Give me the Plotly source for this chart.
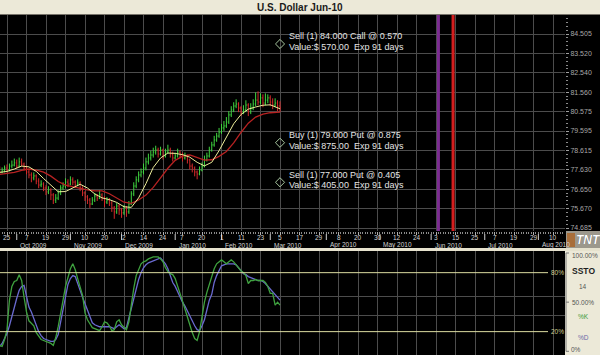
import pandas as pd
import plotly.graph_objects as go

# ------------------------------------------------------------------ data
holidays = ["2009-12-25", "2010-01-01", "2010-01-18"]
first_bar_date = "2009-09-22"
axis_anchor_date = "2009-09-25"

day_label_dates = ["2009-09-25", "2009-10-07", "2009-10-19", "2009-10-29", "2009-11-10",
                   "2009-11-20", "2009-12-02", "2009-12-14", "2009-12-24", "2010-01-07",
                   "2010-01-20", "2010-02-01", "2010-02-11", "2010-02-23", "2010-03-05",
                   "2010-03-17", "2010-03-29", "2010-04-08", "2010-04-20", "2010-04-30",
                   "2010-05-12", "2010-05-24", "2010-06-03", "2010-06-15", "2010-06-25",
                   "2010-07-07", "2010-07-19", "2010-07-29", "2010-08-10"]
month_start_dates = ["2009-10-01", "2009-11-02", "2009-12-01", "2010-01-04", "2010-02-01",
                     "2010-03-01", "2010-04-01", "2010-05-03", "2010-06-01", "2010-07-01",
                     "2010-08-02"]
month_labels = ["Oct 2009", "Nov 2009", "Dec 2009", "Jan 2010", "Feb 2010", "Mar 2010",
                "Apr 2010", "May 2010", "Jun 2010", "Jul 2010", "Aug 2010"]

bar_open = [77.60, 77.52, 77.62, 77.72, 77.62, 77.82, 77.87, 77.98, 77.82, 78.03,
            77.92, 77.72, 77.52, 77.37, 77.22, 77.32, 77.06, 76.86, 76.91, 76.71,
            76.51, 76.61, 76.36, 76.10, 76.20, 76.46, 76.71, 76.81, 77.01, 76.91,
            77.12, 77.01, 76.86, 76.96, 76.71, 76.46, 76.26, 76.10, 75.90, 76.10,
            76.31, 76.20, 76.36, 76.20, 76.00, 76.10, 75.95, 75.70, 75.50, 75.80,
            75.60, 75.45, 75.70, 75.50, 75.90, 76.41, 76.81, 77.12, 77.37, 77.52,
            77.72, 78.03, 78.23, 78.38, 78.53, 78.63, 78.43, 78.63, 78.33, 78.53,
            78.63, 78.43, 78.23, 78.33, 78.53, 78.38, 78.23, 78.33, 78.13, 77.82,
            77.72, 77.52, 77.42, 77.62, 77.82, 78.13, 78.33, 78.63, 78.89, 79.14,
            79.34, 79.54, 79.75, 79.85, 80.05, 80.41, 80.66, 80.86, 80.96, 80.76,
            80.56, 80.66, 80.91, 80.56, 80.76, 80.96, 81.16, 81.06, 81.27, 81.01,
            81.16, 81.27, 81.06, 80.91, 81.01, 80.86]
bar_high = [77.80, 77.75, 77.85, 77.90, 77.95, 78.10, 78.20, 78.15, 78.25, 78.20,
            78.00, 77.85, 77.65, 77.50, 77.50, 77.40, 77.20, 77.10, 77.00, 76.85,
            76.80, 76.70, 76.45, 76.40, 76.60, 76.85, 77.00, 77.20, 77.15, 77.30,
            77.25, 77.10, 77.15, 77.05, 76.80, 76.55, 76.35, 76.20, 76.25, 76.45,
            76.40, 76.60, 76.45, 76.30, 76.25, 76.20, 76.05, 75.80, 75.95, 75.90,
            75.70, 75.85, 75.80, 76.05, 76.55, 77.00, 77.30, 77.55, 77.70, 77.95,
            78.25, 78.45, 78.60, 78.75, 78.85, 78.75, 78.80, 78.70, 78.70, 78.90,
            78.75, 78.55, 78.50, 78.70, 78.60, 78.50, 78.50, 78.40, 78.20, 77.95,
            77.80, 77.60, 77.80, 78.00, 78.35, 78.50, 78.80, 79.05, 79.35, 79.50,
            79.75, 79.95, 80.10, 80.30, 80.60, 80.85, 81.05, 81.20, 81.05, 80.85,
            80.90, 81.15, 81.00, 81.00, 81.20, 81.55, 81.60, 81.50, 81.45, 81.50,
            81.45, 81.40, 81.25, 81.25, 81.15, 81.10]
bar_low = [77.40, 77.45, 77.50, 77.50, 77.55, 77.70, 77.80, 77.70, 77.75, 77.80,
           77.60, 77.40, 77.20, 77.00, 77.10, 76.90, 76.70, 76.75, 76.55, 76.35,
           76.40, 76.10, 75.90, 75.95, 76.10, 76.35, 76.60, 76.70, 76.75, 76.85,
           76.85, 76.70, 76.80, 76.55, 76.30, 76.05, 75.90, 75.70, 75.85, 76.00,
           76.05, 76.15, 76.05, 75.75, 75.90, 75.80, 75.50, 75.15, 75.40, 75.35,
           75.20, 75.35, 75.25, 75.40, 75.85, 76.30, 76.70, 77.00, 77.25, 77.40,
           77.60, 77.90, 78.10, 78.25, 78.40, 78.25, 78.35, 78.15, 78.25, 78.45,
           78.25, 78.05, 78.15, 78.25, 78.20, 78.05, 78.15, 77.95, 77.65, 77.50,
           77.30, 77.15, 77.35, 77.55, 77.75, 78.05, 78.25, 78.55, 78.80, 79.05,
           79.25, 79.45, 79.60, 79.75, 79.95, 80.30, 80.55, 80.75, 80.55, 80.35,
           80.45, 80.55, 80.35, 80.45, 80.65, 80.85, 80.90, 80.95, 80.80, 80.90,
           81.00, 80.85, 80.70, 80.80, 80.60, 80.55]
bar_close = [77.52, 77.62, 77.72, 77.62, 77.82, 77.87, 77.98, 77.82, 78.03, 77.92,
             77.72, 77.52, 77.37, 77.22, 77.32, 77.06, 76.86, 76.91, 76.71, 76.51,
             76.61, 76.36, 76.10, 76.20, 76.46, 76.71, 76.81, 77.01, 76.91, 77.12,
             77.01, 76.86, 76.96, 76.71, 76.46, 76.26, 76.10, 75.90, 76.10, 76.31,
             76.20, 76.36, 76.20, 76.00, 76.10, 75.95, 75.70, 75.50, 75.80, 75.60,
             75.45, 75.70, 75.50, 75.90, 76.41, 76.81, 77.12, 77.37, 77.52, 77.72,
             78.03, 78.23, 78.38, 78.53, 78.63, 78.43, 78.63, 78.33, 78.53, 78.63,
             78.43, 78.23, 78.33, 78.53, 78.38, 78.23, 78.33, 78.13, 77.82, 77.72,
             77.52, 77.42, 77.62, 77.82, 78.13, 78.33, 78.63, 78.89, 79.14, 79.34,
             79.54, 79.75, 79.85, 80.05, 80.41, 80.66, 80.86, 80.96, 80.76, 80.56,
             80.66, 80.91, 80.56, 80.76, 80.96, 81.16, 81.06, 81.27, 81.01, 81.16,
             81.27, 81.06, 80.91, 81.01, 80.86, 80.76]

# moving averages read every third bar (plus the last bar)
ma_fast = [77.50, 77.55, 77.67, 77.82, 77.78, 77.55, 77.19, 76.84, 76.52, 76.53,
           76.70, 76.90, 76.71, 76.41, 76.21, 76.12, 75.98, 75.76, 75.73, 76.21,
           76.93, 77.75, 78.23, 78.48, 78.46, 78.40, 78.27, 78.01, 77.83, 78.01,
           78.60, 79.28, 79.96, 80.43, 80.70, 80.81, 80.90, 80.92, 80.78, 80.72]
ma_slow = [77.40, 77.45, 77.50, 77.60, 77.67, 77.61, 77.51, 77.31, 77.04, 76.86,
           76.77, 76.71, 76.62, 76.56, 76.56, 76.42, 76.20, 75.99, 75.93, 76.10,
           76.35, 76.74, 77.22, 77.71, 78.11, 78.32, 78.38, 78.24, 78.12, 78.14,
           78.31, 78.56, 78.99, 79.52, 79.99, 80.30, 80.45, 80.52, 80.55, 80.55]

stoch_k = [6, 5, 12,
           22, 52, 66, 71, 72, 78, 72, 55, 40, 31,
           28, 26, 19, 15, 12, 11, 10, 9, 8, 6,
           14, 25, 37, 52, 66, 76, 84, 89, 83, 74,
           66, 57, 39, 32, 28, 24, 23, 22, 21, 25,
           30, 29, 26, 21, 22, 30, 32, 27, 24, 22,
           30, 48, 64, 77, 84, 89, 91, 92, 94, 95,
           96, 96, 96, 94, 91, 85, 81, 79, 78, 74,
           67, 59, 51, 43, 34, 27, 19, 13, 11, 20,
           35, 50, 60, 68, 78, 84, 89, 91, 93, 91,
           89, 91, 93, 91, 88, 84, 82, 80, 77, 69,
           72, 72, 73, 72, 72, 72, 70, 66, 59, 59,
           47, 50, 47]
stoch_d = [5, 8, 13,
           18, 26, 36, 46, 54, 62, 66, 67, 55, 45,
           40, 33, 25, 20, 16, 13, 12, 11, 10, 10,
           12, 17, 30, 45, 58, 68, 74, 77, 76, 70,
           62, 55, 48, 42, 35, 29, 27, 26, 25, 25,
           25, 25, 25, 24, 23, 25, 27, 25, 23, 24,
           34, 44, 55, 66, 73, 80, 85, 88, 90, 91,
           92, 93, 94, 95, 92, 89, 84, 76, 70, 66,
           60, 55, 50, 46, 41, 36, 30, 26, 22, 21,
           26, 32, 42, 52, 58, 70, 77, 82, 87, 88,
           89, 89, 89, 89, 88, 85, 82, 79, 78, 76,
           75, 74, 73, 72, 72, 71, 69, 66, 64, 61,
           57, 55, 52]

price_ticks = [74.685, 75.670, 76.650, 77.630, 78.615, 79.595,
               80.575, 81.560, 82.540, 83.520, 84.505]
stoch_levels = [80, 20]
stoch_level_labels = ["80%", "20%"]
stoch_grid = [36.2, 55.6]

option_prices = [84.0, 79.0, 77.0]
option_line1 = ["Sell (1) 84.000 Call @ 0.570",
                "Buy (1) 79.000 Put @ 0.875",
                "Sell (1) 77.000 Put @ 0.405"]
option_line2 = ["Value:$ 570.00\u00a0 Exp 91 days",
                "Value:$ 875.00\u00a0 Exp 91 days",
                "Value:$ 405.00\u00a0 Exp 91 days"]
option_expiry = "2010-06-04"
futures_expiry = "2010-06-14"
title_text = "U.S. Dollar Jun-10"

# ------------------------------------------------------------------ axis geometry
W, H = 600, 355
PLOT_RIGHT = 565
X0_PX = 7.0          # pixel of the anchor date
PX_PER_DAY = 2.4375  # pixels per trading day
PRICE_TOP_PX, PRICE_BOT_PX = 15, 231
ST_TOP_PX, ST_BOT_PX = 251, 355
ST100_PX, ST0_PX = 253.0, 351.3
P_HI, P_HI_PX, P_LO, P_LO_PX = 84.505, 34.0, 74.685, 228.0

cal = pd.bdate_range("2009-09-01", "2010-09-30")
cal = cal[~cal.isin(pd.to_datetime(holidays))]
origin = cal.get_loc(pd.Timestamp(axis_anchor_date))


def tpos(d):
    return int(cal.get_loc(pd.Timestamp(d))) - origin


def py(p):
    return 1 - p / H


def pxp(p):
    return p / W


def tx(t):
    return (X0_PX + PX_PER_DAY * t) / W


start = tpos(first_bar_date)
bar_x = [start + i for i in range(len(bar_close))]
ma_x = bar_x[::3] + [bar_x[-1]]

x_range = [-X0_PX / PX_PER_DAY, (PLOT_RIGHT - X0_PX) / PX_PER_DAY]
slope = (P_HI - P_LO) / (P_LO_PX - P_HI_PX)
price_range = [P_HI - (PRICE_BOT_PX - P_HI_PX) * slope, P_HI + (P_HI_PX - PRICE_TOP_PX) * slope]
st_scale = (ST0_PX - ST100_PX) / 100.0
st_range = [-(ST_BOT_PX - ST0_PX) / st_scale, (ST0_PX - ST_TOP_PX) / st_scale]

label_t = [tpos(d) for d in day_label_dates]
label_txt = [str(pd.Timestamp(d).day) for d in day_label_dates]
month_t = [tpos(d) for d in month_start_dates]

FONT = "Liberation Sans, Arial, sans-serif"
GRID = "#4c4c4c"

fig = go.Figure()

fig.add_trace(go.Ohlc(x=bar_x, open=bar_open, high=bar_high, low=bar_low, close=bar_close,
                      increasing=dict(line=dict(color="#3fd43f", width=1)),
                      decreasing=dict(line=dict(color="#d42a2a", width=1)),
                      tickwidth=0.35, hoverinfo="skip", showlegend=False,
                      xaxis="x", yaxis="y"))
fig.add_trace(go.Scatter(x=ma_x, y=ma_slow, mode="lines",
                         line=dict(color="#b82222", width=1.3),
                         hoverinfo="skip", showlegend=False, xaxis="x", yaxis="y"))
fig.add_trace(go.Scatter(x=ma_x, y=ma_fast, mode="lines",
                         line=dict(color="#eeee9a", width=1.0),
                         hoverinfo="skip", showlegend=False, xaxis="x", yaxis="y"))
fig.add_trace(go.Scatter(x=[bar_x[-1]] * len(option_prices), y=option_prices, mode="markers",
                         marker=dict(symbol="diamond-open", size=7, color="#a8c8a0",
                                     line=dict(width=1)),
                         hoverinfo="skip", showlegend=False, xaxis="x", yaxis="y"))

fig.add_trace(go.Scatter(x=bar_x, y=stoch_d, mode="lines",
                         line=dict(color="#6a6ad0", width=1.3),
                         hoverinfo="skip", showlegend=False, xaxis="x2", yaxis="y2"))
fig.add_trace(go.Scatter(x=bar_x, y=stoch_k, mode="lines",
                         line=dict(color="#3fa23f", width=1.3),
                         hoverinfo="skip", showlegend=False, xaxis="x2", yaxis="y2"))

shapes = []
# title bar
shapes.append(dict(type="rect", xref="paper", yref="paper", x0=0, x1=1, y0=py(14), y1=1,
                   fillcolor="#ECE9D8", line=dict(width=0), layer="above"))
shapes.append(dict(type="line", xref="paper", yref="paper", x0=0, x1=1, y0=py(14.5), y1=py(14.5),
                   line=dict(color="#77736a", width=1), layer="above"))
# separator between date band and oscillator
shapes.append(dict(type="rect", xref="paper", yref="paper", x0=0, x1=1, y0=py(251), y1=py(248),
                   fillcolor="#E6E2CE", line=dict(width=0), layer="above"))
# oscillator side panel
shapes.append(dict(type="rect", xref="paper", yref="paper", x0=pxp(PLOT_RIGHT), x1=1,
                   y0=0, y1=py(251), fillcolor="#ECE9D8", line=dict(width=0), layer="below"))
shapes.append(dict(type="line", xref="paper", yref="paper", x0=pxp(566), x1=pxp(566),
                   y0=py(ST0_PX), y1=py(ST100_PX), line=dict(color="#7a7a7a", width=1)))
for yv in (ST100_PX, (ST100_PX + ST0_PX) / 2, ST0_PX):
    shapes.append(dict(type="line", xref="paper", yref="paper", x0=pxp(566), x1=pxp(569),
                       y0=py(yv), y1=py(yv), line=dict(color="#7a7a7a", width=1)))
# logo box
shapes.append(dict(type="rect", xref="paper", yref="paper", x0=pxp(566), x1=1,
                   y0=py(248), y1=py(231), fillcolor="#9c988c", line=dict(width=0)))
shapes.append(dict(type="rect", xref="paper", yref="paper", x0=pxp(567), x1=pxp(575),
                   y0=py(247), y1=py(233), fillcolor="#a86e3a", line=dict(width=0)))
# expiry lines
for d, col in ((option_expiry, "#7c2c92"), (futures_expiry, "#d41e1e")):
    shapes.append(dict(type="line", xref="x", yref="paper", x0=tpos(d), x1=tpos(d),
                       y0=py(PRICE_BOT_PX), y1=py(PRICE_TOP_PX), line=dict(color=col, width=3)))
# 80 / 20 levels
for lv in stoch_levels:
    shapes.append(dict(type="line", xref="paper", yref="y2", x0=0, x1=pxp(548), y0=lv, y1=lv,
                       line=dict(color="#dcdca0", width=1)))
# month separators in the date band
for t in month_t:
    shapes.append(dict(type="line", xref="paper", yref="paper", x0=tx(t), x1=tx(t),
                       y0=py(240), y1=py(234), line=dict(color="#d0d0d0", width=1)))

ann = []
ann.append(dict(text="<b>" + title_text + "</b>", xref="paper", yref="paper", x=0.5, y=py(7.3),
                showarrow=False, xanchor="center", yanchor="middle",
                font=dict(family="Liberation Sans Narrow, Liberation Sans, Arial", size=10, color="#1a1a1a")))
for t, s in zip(label_t, label_txt):
    ann.append(dict(text=s, xref="paper", yref="paper", x=tx(t), y=py(237.5), showarrow=False,
                    xanchor="center", yanchor="middle",
                    font=dict(family=FONT, size=6.5, color="#d2d2d2")))
for t, s in zip(month_t, month_labels):
    ann.append(dict(text=s, xref="paper", yref="paper", x=tx(t) + pxp(1.5), y=py(245),
                    showarrow=False, xanchor="left", yanchor="middle",
                    font=dict(family=FONT, size=6.5, color="#d2d2d2")))
for p, l1, l2 in zip(option_prices, option_line1, option_line2):
    ann.append(dict(text=l1, xref="x", yref="y", x=bar_x[-1], y=p, xshift=7, yshift=7.5,
                    showarrow=False, xanchor="left", yanchor="middle",
                    font=dict(family=FONT, size=9, color="#e4e4e4")))
    ann.append(dict(text=l2, xref="x", yref="y", x=bar_x[-1], y=p, xshift=7, yshift=-3,
                    showarrow=False, xanchor="left", yanchor="middle",
                    font=dict(family=FONT, size=9, color="#e4e4e4")))
for lv, s in zip(stoch_levels, stoch_level_labels):
    ann.append(dict(text=s, xref="paper", yref="y2", x=pxp(549), y=lv, showarrow=False,
                    xanchor="left", yanchor="middle",
                    font=dict(family=FONT, size=6.5, color="#cfcf90")))
side = [("100.00%", 570, 255.7, "left", "#555555", 6.5, False),
        ("SSTO", 583, 270.7, "center", "#1e1e1e", 8.5, True),
        ("14", 583, 286.7, "center", "#555555", 6.5, False),
        ("50.00%", 570, 302.5, "left", "#555555", 6.5, False),
        ("%K", 583, 316.7, "center", "#3a9a3a", 6.5, False),
        ("%D", 583, 337.3, "center", "#6a6aa8", 6.5, False),
        ("0%", 569, 349.0, "left", "#555555", 6.5, False)]
for s, x, y, xa, col, sz, b in side:
    ann.append(dict(text=("<b>%s</b>" % s) if b else s, xref="paper", yref="paper",
                    x=pxp(x), y=py(y), showarrow=False, xanchor=xa, yanchor="middle",
                    font=dict(family=FONT, size=sz, color=col)))
ann.append(dict(text="<b><i>TNT</i></b>", xref="paper", yref="paper", x=pxp(588.8), y=py(240.2),
                showarrow=False, xanchor="center", yanchor="middle",
                font=dict(family=FONT, size=12, color="#101010")))
ann.append(dict(text="<b><i>TNT</i></b>", xref="paper", yref="paper", x=pxp(588), y=py(239.5),
                showarrow=False, xanchor="center", yanchor="middle",
                font=dict(family=FONT, size=12, color="#ffffff")))

fig.update_layout(
    width=W, height=H, margin=dict(l=0, r=0, t=0, b=0),
    paper_bgcolor="#000000", plot_bgcolor="#000000",
    font=dict(family=FONT), showlegend=False, hovermode=False,
    shapes=shapes, annotations=ann,
    xaxis=dict(domain=[0, pxp(PLOT_RIGHT)], range=x_range, anchor="y",
               tickmode="array", tickvals=label_t, showticklabels=False,
               showgrid=True, gridcolor=GRID, gridwidth=1, zeroline=False, showline=False,
               ticks="outside", ticklen=3, tickcolor="#b0b0b0",
               minor=dict(tickmode="linear", tick0=0, dtick=1, ticks="outside", ticklen=2,
                          tickcolor="#8a8a8a", showgrid=False),
               rangeslider=dict(visible=False), fixedrange=True),
    yaxis=dict(domain=[py(PRICE_BOT_PX), py(PRICE_TOP_PX)], range=price_range, anchor="x",
               side="right", tickmode="array", tickvals=price_ticks,
               ticktext=["%.3f" % v for v in price_ticks],
               tickfont=dict(size=7, color="#a8a8a8", family=FONT),
               showgrid=True, gridcolor=GRID, gridwidth=1, zeroline=False, showline=False,
               ticks="outside", ticklen=3, tickcolor="#a0a0a0",
               minor=dict(tickmode="linear", tick0=P_LO, dtick=(P_HI - P_LO) / 50, ticks="outside",
                          ticklen=2, tickcolor="#8a8a8a", showgrid=False),
               fixedrange=True),
    xaxis2=dict(domain=[0, pxp(PLOT_RIGHT)], range=x_range, anchor="y2",
                tickmode="array", tickvals=label_t, showticklabels=False,
                showgrid=True, gridcolor=GRID, gridwidth=1, zeroline=False, showline=False,
                ticks="", fixedrange=True),
    yaxis2=dict(domain=[0, py(ST_TOP_PX)], range=st_range, anchor="x2",
                tickmode="array", tickvals=stoch_grid, showticklabels=False,
                showgrid=True, gridcolor=GRID, gridwidth=1, zeroline=False, showline=False,
                ticks="", fixedrange=True),
)

fig.write_html("out.html")
